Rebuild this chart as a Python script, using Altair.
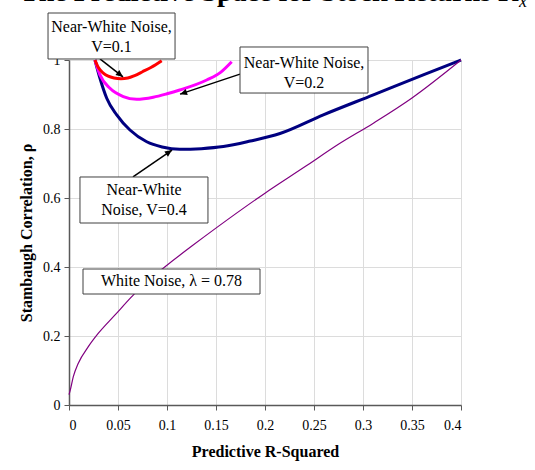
import math
import altair as alt
import pandas as pd

# ---- curve values (predictive R-squared vs. Stambaugh correlation) ----
red_x = [0.0265, 0.030, 0.035, 0.040, 0.046, 0.053, 0.060, 0.067, 0.075, 0.084, 0.0946]
red_y = [1.000, 0.978, 0.962, 0.953, 0.948, 0.946, 0.948, 0.955, 0.966, 0.979, 0.998]

magenta_x = [0.0265, 0.0316, 0.0418, 0.0554, 0.069, 0.086, 0.100, 0.113, 0.1405, 0.155, 0.166]
magenta_y = [1.000, 0.957, 0.918, 0.894, 0.886, 0.892, 0.902, 0.913, 0.942, 0.965, 0.995]

navy_x = [0.0265, 0.0316, 0.0385, 0.0487, 0.0622, 0.0793, 0.095, 0.113, 0.135, 0.1575,
          0.185, 0.2153, 0.2595, 0.3106, 0.3615, 0.400]
navy_y = [1.000, 0.947, 0.889, 0.841, 0.797, 0.763, 0.748, 0.741, 0.743, 0.749,
          0.765, 0.787, 0.841, 0.899, 0.957, 1.000]

white_x = [0.0, 0.0013, 0.0044, 0.0095, 0.0197, 0.030, 0.047, 0.064, 0.080, 0.098,
           0.125, 0.152, 0.200, 0.241, 0.2745, 0.3106, 0.350, 0.400]
white_y = [0.030, 0.043, 0.082, 0.121, 0.169, 0.208, 0.261, 0.314, 0.360, 0.401,
           0.460, 0.517, 0.614, 0.691, 0.755, 0.817, 0.890, 1.000]

series_names = ["V=0.4", "V=0.2", "V=0.1"]
series_colors = ["#000080", "#ff00ff", "#ff0000"]

x_ticks = [0, 0.05, 0.1, 0.15, 0.2, 0.25, 0.3, 0.35, 0.4]
y_ticks = [0, 0.2, 0.4, 0.6, 0.8, 1]

# ---- annotation boxes, labels and arrows (data coordinates) ----
box_x1 = [-0.0214, 0.1745, 0.0112, 0.0143]
box_x2 = [0.1082, 0.3051, 0.1418, 0.1949]
box_y1 = [1.1362, 1.0377, 0.6609, 0.3942]
box_y2 = [1.0029, 0.9043, 0.5275, 0.3217]
# label anchor = centre of the first text line
label_x = [0.0434, 0.2398, 0.0765, 0.1046]
label_y = [1.0957, 0.9913, 0.6232, 0.3580]
label_text = ["Near-White Noise,\nV=0.1", "Near-White Noise,\nV=0.2",
              "Near-White\nNoise, V=0.4", "White Noise, \u03bb = 0.78"]

arrow_x = [0.0316, 0.1745, 0.0653]
arrow_y = [1.003, 0.959, 0.661]
arrow_x2 = [0.0551, 0.1133, 0.1051]
arrow_y2 = [0.951, 0.901, 0.739]

W, H = 392, 345
X_DOM, Y_DOM = [0, 0.4], [0, 1]
FONT = "Liberation Serif"

rows = []
for name, xs_, ys_ in [("V=0.4", navy_x, navy_y), ("V=0.2", magenta_x, magenta_y),
                       ("V=0.1", red_x, red_y)]:
    for x, y in zip(xs_, ys_):
        rows.append({"series": name, "r2": x, "rho": y})
near = pd.DataFrame(rows)
white = pd.DataFrame({"r2": white_x, "rho": white_y})

boxes = pd.DataFrame({"x1": box_x1, "x2": box_x2, "y1": box_y1, "y2": box_y2,
                      "lx": label_x, "ly": label_y, "text": label_text})

# arrowhead rotation from the on-screen direction of each arrow
px_per_x = W / (X_DOM[1] - X_DOM[0])
px_per_y = H / (Y_DOM[1] - Y_DOM[0])
angles = []
for x0, y0, x1, y1 in zip(arrow_x, arrow_y, arrow_x2, arrow_y2):
    dx = (x1 - x0) * px_per_x
    dy = -(y1 - y0) * px_per_y
    angles.append(math.degrees(math.atan2(dx, -dy)) % 360)
arrows = pd.DataFrame({"x": arrow_x, "y": arrow_y, "x2": arrow_x2, "y2": arrow_y2,
                       "angle": angles})

xs = alt.Scale(domain=X_DOM, nice=False, zero=False)
ys = alt.Scale(domain=Y_DOM, nice=False, zero=False)

x_axis = alt.Axis(values=x_ticks, format="~g", title="Predictive R-Squared",
                  labelPadding=8, titlePadding=11)
y_axis = alt.Axis(values=y_ticks, format="~g", title="Stambaugh Correlation, \u03c1",
                  labelPadding=4, titlePadding=8)

near_lines = alt.Chart(near).mark_line(strokeWidth=3, interpolate="monotone").encode(
    x=alt.X("r2:Q", scale=xs, axis=x_axis),
    y=alt.Y("rho:Q", scale=ys, axis=y_axis),
    color=alt.Color("series:N", scale=alt.Scale(domain=series_names, range=series_colors),
                    legend=None),
    detail="series:N",
)

white_line = alt.Chart(white).mark_line(strokeWidth=1.2, color="#800080",
                                        interpolate="monotone").encode(
    x=alt.X("r2:Q", scale=xs), y=alt.Y("rho:Q", scale=ys))

arrow_lines = alt.Chart(arrows).mark_rule(color="black", strokeWidth=1.5).encode(
    x=alt.X("x:Q", scale=xs), y=alt.Y("y:Q", scale=ys), x2="x2:Q", y2="y2:Q")

arrow_heads = alt.Chart(arrows).mark_point(
    shape="M0,0L-0.45,1L0.45,1Z", filled=True, color="black", opacity=1, size=200
).encode(x=alt.X("x2:Q", scale=xs), y=alt.Y("y2:Q", scale=ys),
         angle=alt.Angle("angle:Q", scale=None))

box_rects = alt.Chart(boxes).mark_rect(fill="white", stroke="#404040", strokeWidth=1).encode(
    x=alt.X("x1:Q", scale=xs), x2="x2:Q", y=alt.Y("y1:Q", scale=ys), y2="y2:Q")

box_text = alt.Chart(boxes).mark_text(font=FONT, fontSize=16, lineBreak="\n", lineHeight=20,
                                      align="center", baseline="middle", color="black").encode(
    x=alt.X("lx:Q", scale=xs), y=alt.Y("ly:Q", scale=ys), text="text:N")

heading = alt.Chart(pd.DataFrame({"t": ["The Predictive Space for Stock Returns R"]})).mark_text(
    font=FONT, fontSize=28, fontWeight="bold", align="left", baseline="alphabetic", color="black"
).encode(x=alt.value(-49), y=alt.value(-59.5), text="t:N")

heading_sub = alt.Chart(pd.DataFrame({"t": ["x"]})).mark_text(
    font=FONT, fontSize=18, fontStyle="italic", align="left", baseline="alphabetic", color="black"
).encode(x=alt.value(450), y=alt.value(-53), text="t:N")

chart = alt.layer(
    near_lines, white_line, arrow_lines, arrow_heads, box_rects, box_text, heading, heading_sub
).properties(
    width=W, height=H,
    autosize=alt.AutoSizeParams(type="none"),
    padding={"left": 69, "top": 60, "right": 74, "bottom": 65},
    background="white",
).configure_view(
    strokeOpacity=0
).configure_axis(
    labelFont=FONT, labelFontSize=14, labelColor="black",
    titleFont=FONT, titleFontSize=16, titleFontWeight="bold", titleColor="black",
    domainColor="#595959", domainWidth=1.5, tickColor="#595959", tickSize=5,
    gridColor="#dcdcdc", gridWidth=1,
)

chart.save("out.html", embed_options={"renderer": "svg", "actions": False})
